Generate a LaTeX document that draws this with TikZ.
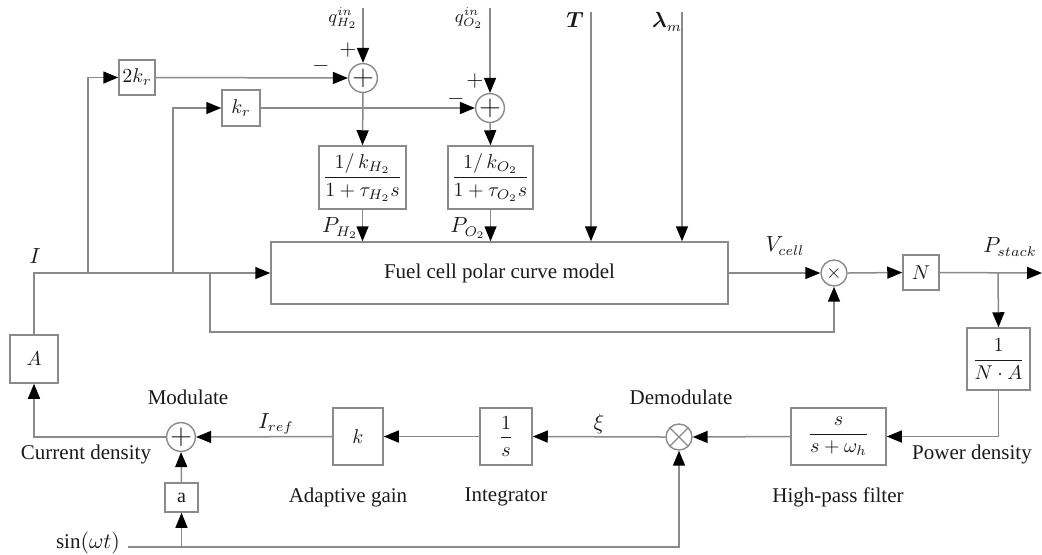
\documentclass[tikz,border=0pt]{standalone}
\usepackage{amsmath,amssymb}
\usepackage{fontspec}
\setmainfont{Liberation Serif}
\usepackage{tikz}
\usetikzlibrary{arrows.meta}
\definecolor{wire}{HTML}{8A8A8A}
\definecolor{ink}{HTML}{1A1A1A}
\tikzset{
  sig/.style={draw=wire, line width=0.75pt, -{Triangle[length=7.5pt,width=6pt,color=black]}},
  blk/.style={draw=wire, line width=0.75pt, inner sep=1pt, text=ink},
  sumc/.style={circle, draw=wire, line width=0.7pt, minimum size=13pt, inner sep=0pt, text=ink},
  xcirc/.style={circle, draw=wire, line width=0.7pt, minimum size=13pt, inner sep=0pt,
    path picture={\draw[wire, line width=0.6pt] (path picture bounding box.north west) -- (path picture bounding box.south east)
      (path picture bounding box.north east) -- (path picture bounding box.south west);}},
  lab/.style={text=ink, font=\fontsize{10.5}{12}\selectfont, inner sep=0pt},
  labs/.style={text=ink, font=\fontsize{9}{10}\selectfont, inner sep=0pt},
}

\begin{document}
\begin{tikzpicture}[x=0.5pt, y=-0.5pt]
  \useasboundingbox (0,0) rectangle (1042,554);

  % blocks
  \node[blk, minimum width=228.5pt, minimum height=31pt, font=\fontsize{10.5}{12}\selectfont] (model) at (499.5,273) {Fuel cell polar curve model};
  \node[sumc] (mult) at (834,273) {$\times$};
  \node[blk, minimum width=18pt, minimum height=17.5pt] (gN) at (921,272.5) {$N$};
  \node[blk, minimum width=31.5pt, minimum height=31pt] (gNA) at (998.5,359) {$\dfrac{1}{N\cdot A}$};
  \node[blk, minimum width=47.5pt, minimum height=28.5pt] (hpf) at (838.5,436.5) {$\dfrac{s}{s+\omega_h}$};
  \node[xcirc] (demod) at (679,437) {};
  \node[blk, minimum width=26pt, minimum height=28.5pt] (gint) at (506,436.5) {$\dfrac{1}{s}$};
  \node[blk, minimum width=25pt, minimum height=28.5pt] (gk) at (358,436.5) {$k$};
  \node[sumc] (mod) at (181,437) {\Large $+$};
  \node[blk, minimum width=24pt, minimum height=24pt] (gA) at (34,359) {$A$};
  \node[blk, minimum width=16.5pt, minimum height=14.5pt] (ga) at (181.5,497.5) {a};
  \node[blk, minimum width=18pt, minimum height=17.5pt] (g2k) at (137,77.5) {$2k_r$};
  \node[blk, minimum width=19pt, minimum height=18pt] (gkr) at (241,108) {$k_r$};
  \node[sumc] (sumH) at (363,78) {\Large $+$};
  \node[sumc] (sumO) at (490,108) {\Large $+$};
  \node[blk, minimum width=43.5pt, minimum height=31.5pt] (gH) at (362.5,177.5) {$\dfrac{1/\,k_{H_2}}{1+\tau_{H_2}s}$};
  \node[blk, minimum width=42.5pt, minimum height=31.5pt] (gO) at (490.5,177.5) {$\dfrac{1/\,k_{O_2}}{1+\tau_{O_2}s}$};

  % free ends and branch points
  \coordinate (j1) at (88,273);
  \coordinate (j2) at (173,273);
  \coordinate (j3) at (210,273);
  \coordinate (fb) at (210,332);
  \coordinate (jP) at (998,273);
  \coordinate (out) at (1042,273);
  \coordinate (qH) at (363,8);
  \coordinate (qO) at (490,8);
  \coordinate (Tin) at (591,12);
  \coordinate (lam) at (682,12);
  \coordinate (sinL) at (128,547);
  \coordinate (ja) at (181.5,547);

  % connectors
  \draw[sig] (gA.north) |- (model.west);
  \draw[sig] (j1) |- (g2k.west);
  \draw[sig] (j2) |- (gkr.west);
  \draw[sig] (j3) -- (fb) -| (mult.south);
  \draw[sig] (model.east) -- (mult.west);
  \draw[sig] (mult.east) -- (gN.west);
  \draw[sig] (gN.east) -- (out);
  \draw[sig] (jP) -- (gNA.north);
  \draw[sig] (gNA.south) |- (hpf.east);
  \draw[sig] (hpf.west) -- (demod.east);
  \draw[sig] (demod.west) -- (gint.east);
  \draw[sig] (gint.west) -- (gk.east);
  \draw[sig] (gk.west) -- (mod.east);
  \draw[sig] (mod.west) -| (gA.south);
  \draw[sig] (ga.north) -- (mod.south);
  \draw[sig] (ja) -- (ga.south);
  \draw[sig] (sinL) -| (demod.south);

  \draw[sig] (qH) -- (sumH.north);
  \draw[sig] (g2k.east) -- (sumH.west);
  \draw[sig] (sumH.south) -- (gH.north);
  \draw[sig] (gH.south) -- (gH.south |- model.north);
  \draw[sig] (qO) -- (sumO.north);
  \draw[sig] (gkr.east) -- (sumO.west);
  \draw[sig] (sumO.south) -- (gO.north);
  \draw[sig] (gO.south) -- (gO.south |- model.north);
  \draw[sig] (Tin) -- (Tin |- model.north);
  \draw[sig] (lam) -- (lam |- model.north);

  % labels
  \node[lab] (lI) at (35,256) {$I$};
  \node[labs] (lqH) at (343,18) {$q^{in}_{H_2}$};
  \node[labs] (lqO) at (469,18) {$q^{in}_{O_2}$};
  \node[lab] (pH) at (348,50) {$+$};
  \node[lab] (mH) at (321,66) {$-$};
  \node[lab] (pO) at (475,81) {$+$};
  \node[lab] (mO) at (456,99) {$-$};
  \node[lab] (lT) at (575,20) {$\boldsymbol{T}$};
  \node[lab] (llam) at (667,22) {$\boldsymbol{\lambda}_m$};
  \node[lab] (lPH) at (340,228) {$P_{H_2}$};
  \node[lab] (lPO) at (468,228) {$P_{O_2}$};
  \node[lab] (lV) at (785,246) {$V_{cell}$};
  \node[lab] (lP) at (1010,247) {$P_{stack}$};
  \node[lab] (lmod) at (188,397) {Modulate};
  \node[lab] (lcd) at (86,454) {Current density};
  \node[lab] (lIr) at (276,424) {$I_{ref}$};
  \node[lab] (lag) at (348,497) {Adaptive gain};
  \node[lab] (lint) at (506,497) {Integrator};
  \node[lab] (lxi) at (599,424) {$\xi$};
  \node[lab] (ldem) at (681,397) {Demodulate};
  \node[lab] (lhpf) at (838,497) {High-pass filter};
  \node[lab] (lpd) at (972,454) {Power density};
  \node[lab] (lsin) at (88,543) {$\sin(\omega t)$};
\end{tikzpicture}
\end{document}
